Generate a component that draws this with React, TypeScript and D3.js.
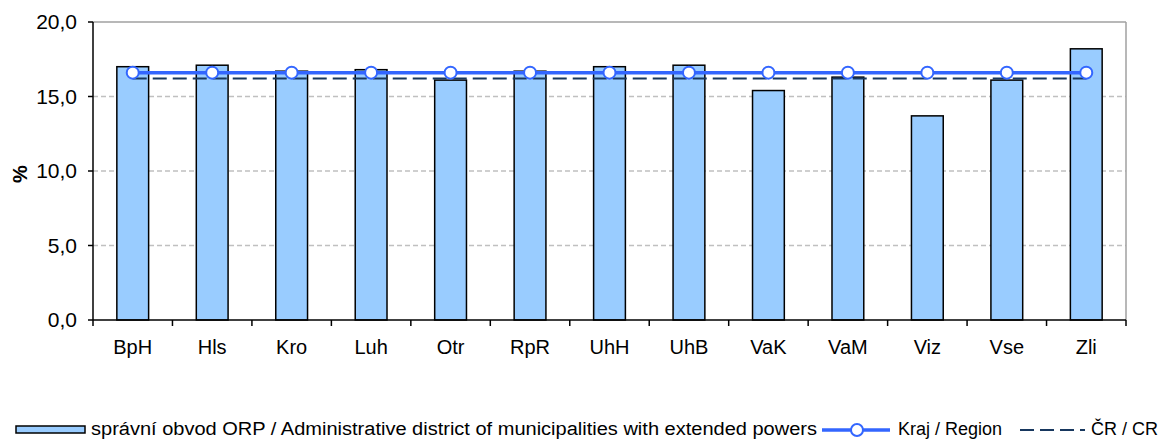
import React from "react";
import * as d3 from "d3";

const categories = ["BpH", "Hls", "Kro", "Luh", "Otr", "RpR", "UhH", "UhB", "VaK", "VaM", "Viz", "Vse", "Zli"];
const orpValues = [17.0, 17.1, 16.7, 16.8, 16.1, 16.7, 17.0, 17.1, 15.4, 16.3, 13.7, 16.1, 18.2];
const regionValues = [16.6, 16.6, 16.6, 16.6, 16.6, 16.6, 16.6, 16.6, 16.6, 16.6, 16.6, 16.6, 16.6];
const crValues = [16.2, 16.2, 16.2, 16.2, 16.2, 16.2, 16.2, 16.2, 16.2, 16.2, 16.2, 16.2, 16.2];
const yTicks = [0, 5, 10, 15, 20];
const legendLabels = [
  "správní obvod ORP / Administrative district of municipalities with extended powers",
  "Kraj / Region",
  "ČR / CR",
];

const W = 1165;
const H = 439;
const L = 93, R = 1126, T = 22, B = 320;
const FONT = "'Liberation Sans', Arial, sans-serif";

export default function App() {
  const x = d3.scaleBand<string>().domain(categories).range([L, R]).paddingInner(0.6).paddingOuter(0.3);
  const y = d3.scaleLinear().domain([0, 20]).range([B, T]);
  const cx = (c: string) => (x(c) as number) + x.bandwidth() / 2;
  const step = x.step();
  const boundaries = d3.range(categories.length + 1).map((i) => L + i * step);

  const regionLine = d3.line<number>().x((_, i) => cx(categories[i])).y((d) => y(d));
  const crLine = d3.line<number>().x((_, i) => cx(categories[i])).y((d) => y(d));

  const fmt = (v: number) => v.toFixed(1).replace(".", ",");
  const LY = 430;

  return (
    <svg width={W} height={H} style={{ position: "absolute", left: 0, top: 0, background: "#fff" }} fontFamily={FONT}>
      {/* gridlines */}
      {yTicks.filter((t) => t > 0 && t < 20).map((t) => (
        <line key={t} x1={L} x2={R} y1={y(t)} y2={y(t)} stroke="#c0c0c0" strokeWidth={1.3} strokeDasharray="5,3" />
      ))}
      {/* plot border top/right */}
      <line x1={L} x2={R} y1={y(20)} y2={y(20)} stroke="#a0a0a0" strokeWidth={1.5} />
      <line x1={R} x2={R} y1={T} y2={B} stroke="#a0a0a0" strokeWidth={1.5} />

      {/* bars */}
      {categories.map((c, i) => (
        <rect key={c} x={x(c)} y={y(orpValues[i])} width={x.bandwidth()} height={B - y(orpValues[i])}
          fill="#99ccff" stroke="#000" strokeWidth={1.5} />
      ))}

      {/* CR dashed line */}
      <path d={crLine(crValues) || ""} fill="none" stroke="#17375e" strokeWidth={2} strokeDasharray="14,6" />
      {/* region line */}
      <path d={regionLine(regionValues) || ""} fill="none" stroke="#3366ff" strokeWidth={3.5} />
      {categories.map((c, i) => (
        <circle key={c} cx={cx(c)} cy={y(regionValues[i])} r={6} fill="#fff" stroke="#3366ff" strokeWidth={2} />
      ))}

      {/* y axis */}
      <line x1={L} x2={L} y1={T} y2={B} stroke="#000" strokeWidth={1.5} />
      {yTicks.map((t) => (
        <g key={t}>
          <line x1={L - 5} x2={L} y1={y(t)} y2={y(t)} stroke="#000" strokeWidth={1.5} />
          <text x={77} y={y(t)} dy="0.35em" textAnchor="end" fontSize={21} fill="#000">{fmt(t)}</text>
        </g>
      ))}
      <text transform={`translate(27,${(T + B) / 2 + 3}) rotate(-90)`} textAnchor="middle" fontSize={20} fontWeight="bold" fill="#000">%</text>

      {/* x axis */}
      <line x1={L} x2={R} y1={B} y2={B} stroke="#000" strokeWidth={1.5} />
      {boundaries.map((b, i) => (
        <line key={i} x1={b} x2={b} y1={B} y2={B + 6} stroke="#000" strokeWidth={1.5} />
      ))}
      {categories.map((c) => (
        <text key={c} x={cx(c)} y={354} textAnchor="middle" fontSize={20} fill="#000">{c}</text>
      ))}

      {/* legend */}
      <rect x={16} y={LY - 4} width={69} height={7} fill="#99ccff" stroke="#000" strokeWidth={1.5} />
      <text x={91} y={LY + 5} fontSize={18} fill="#000" textLength={726} lengthAdjust="spacingAndGlyphs">{legendLabels[0]}</text>
      <line x1={822} x2={890} y1={LY} y2={LY} stroke="#3366ff" strokeWidth={3.5} />
      <circle cx={857} cy={LY} r={6} fill="#fff" stroke="#3366ff" strokeWidth={2} />
      <text x={898} y={LY + 5} fontSize={18} fill="#000">{legendLabels[1]}</text>
      <line x1={1020} x2={1085} y1={LY} y2={LY} stroke="#17375e" strokeWidth={2} strokeDasharray="14,6" />
      <text x={1091} y={LY + 5} fontSize={18} fill="#000">{legendLabels[2]}</text>
    </svg>
  );
}
